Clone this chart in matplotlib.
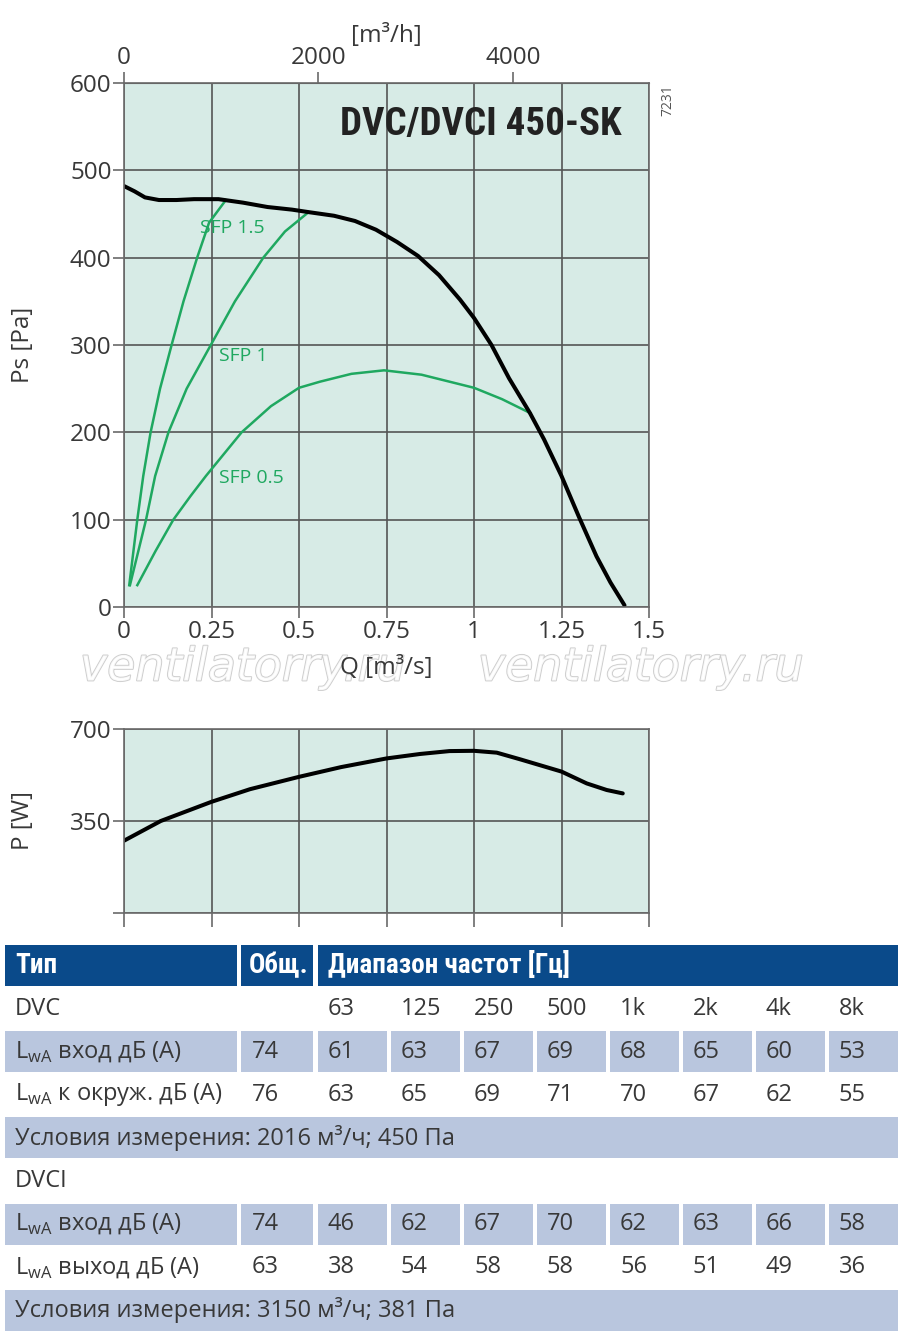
import matplotlib
matplotlib.use('Agg')
import matplotlib.pyplot as plt
from matplotlib import font_manager
from matplotlib.patches import Rectangle
import matplotlib.patheffects as pe

W, H = 900, 1333

# --- данные: характеристика вентилятора, Q [m3/s] / Ps [Pa]
fan_q = [0, 0.03, 0.06, 0.10, 0.15, 0.20, 0.27, 0.34, 0.41, 0.48, 0.53, 0.60, 0.66,
         0.72, 0.78, 0.84, 0.90, 0.96, 1.00, 1.05, 1.10, 1.16, 1.20, 1.25, 1.30,
         1.35, 1.39, 1.43]
fan_ps = [482, 476, 469, 466, 466, 467, 467, 463, 458, 455, 452, 448, 442,
          432, 418, 402, 380, 352, 331, 300, 262, 222, 192, 150, 103,
          58, 28, 2]

# линии SFP
sfp15_q = [0.015, 0.038, 0.055, 0.076, 0.103, 0.136, 0.17, 0.209, 0.243, 0.291]
sfp15_ps = [25, 100, 150, 200, 250, 300, 350, 400, 440, 466]
sfp1_q = [0.017, 0.063, 0.089, 0.127, 0.179, 0.248, 0.317, 0.398, 0.46, 0.527]
sfp1_ps = [25, 100, 150, 200, 250, 300, 350, 400, 430, 452]
sfp05_q = [0.038, 0.09, 0.141, 0.19, 0.234, 0.336, 0.42, 0.50, 0.56, 0.65, 0.743,
           0.85, 1.00, 1.08, 1.161]
sfp05_ps = [25, 64, 100, 127, 150, 200, 230, 251, 258, 267, 271,
            266, 251, 238, 222]

# мощность, P [W]
pow_q = [0, 0.105, 0.25, 0.36, 0.50, 0.62, 0.75, 0.846, 0.93, 1.00, 1.065, 1.131,
         1.25, 1.322, 1.379, 1.425]
pow_w = [275, 350, 423, 471, 518, 555, 588, 605, 616, 617, 610, 585,
         538, 493, 468, 455]

# таблица шума
header_labels = ['Тип', 'Общ.', 'Диапазон частот [Гц]']
bands = ['63', '125', '250', '500', '1k', '2k', '4k', '8k']
dvc_in_total, dvc_in = 74, [61, 63, 67, 69, 68, 65, 60, 53]
dvc_env_total, dvc_env = 76, [63, 65, 69, 71, 70, 67, 62, 55]
dvc_cond = 'Условия измерения: 2016 м³/ч; 450 Па'
dvci_in_total, dvci_in = 74, [46, 62, 67, 70, 62, 63, 66, 58]
dvci_out_total, dvci_out = 63, [38, 54, 58, 58, 56, 51, 49, 36]
dvci_cond = 'Условия измерения: 3150 м³/ч; 381 Па'

# шрифты: узкий жирный для заголовков, обычный для остального
names = {f.name for f in font_manager.fontManager.ttflist}
main = 'Open Sans' if 'Open Sans' in names else 'DejaVu Sans'
narrow, stretch = main, 'normal'
for f in font_manager.fontManager.ttflist:
    fn = f.fname.replace('-', '').replace('_', '')
    if ('Narrow' in fn or 'Condensed' in fn) and 'Extra' not in fn and 'Semi' not in fn \
            and f.style == 'normal' and f.weight in (400, 'normal', 'regular'):
        narrow, stretch = f.name, f.stretch
        if 'Liberation' in f.name or 'Roboto' in f.name:
            break
plt.rcParams['font.family'] = [main, 'DejaVu Sans']
plt.rcParams['mathtext.fontset'] = 'custom'
plt.rcParams['mathtext.rm'] = main
cond = dict(family=[narrow, 'DejaVu Sans'], stretch=stretch, fontweight='bold')

bg = '#d7ebe6'
gridc = '#555555'
spinec = '#6a6a6a'
green = '#1fa860'
txtc = '#383838'
blue = '#0a4a8a'
light = '#b9c6de'
fs = 17.5

fig = plt.figure(figsize=(W / 100, H / 100), dpi=100)


def fx(x):
    return x / W


def fy(y):
    return 1 - y / H


def style_axes(ax):
    ax.set_facecolor(bg)
    for s in ax.spines.values():
        s.set_color(spinec)
        s.set_linewidth(1.2)
    ax.tick_params(direction='out', length=8, width=1.2, color=spinec,
                   labelsize=fs, labelcolor=txtc, pad=1)
    ax.grid(True, color=gridc, linewidth=1.2)
    ax.set_axisbelow(True)


# ---- таблица и водяной знак (в пикселях, под графиками)
tab = fig.add_axes([0, 0, 1, 1], facecolor='none')
tab.set_zorder(-1)
tab.set_xlim(0, W)
tab.set_ylim(H, 0)
tab.axis('off')

for wx in (80, 478):
    tab.text(wx, 668, 'ventilatorry.ru', fontsize=33, style='italic', color='white',
             ha='left', va='center', family='DejaVu Sans', alpha=0.85,
             path_effects=[pe.withStroke(linewidth=1.3, foreground='#c4c4c4')])

# ---- верхний график
ax1 = fig.add_axes([fx(124), fy(607), 525 / W, 524 / H])
style_axes(ax1)
ax1.plot(sfp15_q, sfp15_ps, color=green, lw=1.8)
ax1.plot(sfp1_q, sfp1_ps, color=green, lw=1.8)
ax1.plot(sfp05_q, sfp05_ps, color=green, lw=1.8)
ax1.plot(fan_q, fan_ps, color='black', lw=2.9, solid_capstyle='round')
ax1.set_xlim(0, 1.5)
ax1.set_ylim(0, 600)
ax1.set_xticks([0, 0.25, 0.5, 0.75, 1, 1.25, 1.5])
ax1.set_xticklabels(['0', '0.25', '0.5', '0.75', '1', '1.25', '1.5'])
ax1.set_yticks([0, 100, 200, 300, 400, 500, 600])
ax1.set_ylabel('Ps [Pa]', fontsize=fs, color=txtc, labelpad=25)
ax1.set_xlabel('Q [m³/s]', fontsize=fs, color=txtc, labelpad=9)

ax1.text(0.217, 434, 'SFP 1.5', color=green, fontsize=14, va='center')
ax1.text(0.271, 287, 'SFP 1', color=green, fontsize=14, va='center')
ax1.text(0.271, 148, 'SFP 0.5', color=green, fontsize=14, va='center')
ax1.text(1.42, 553, 'DVC/DVCI 450-SK', fontsize=28, color='#222222',
         ha='right', va='center', **cond)

top = ax1.secondary_xaxis('top', functions=(lambda q: q * 3600, lambda h: h / 3600))
top.set_xticks([0, 2000, 4000])
top.tick_params(direction='out', length=8, width=1.2, color=spinec,
                labelsize=fs, labelcolor=txtc, pad=1)
top.spines['top'].set_color(spinec)
top.set_xlabel('[m³/h]', fontsize=fs, color=txtc, labelpad=3)

fig.text(fx(668), fy(100), '7231', rotation=90, fontsize=10, color='#555555',
         ha='center', va='center')

# ---- график мощности
ax2 = fig.add_axes([fx(124), fy(913), 525 / W, 184 / H])
style_axes(ax2)
ax2.plot(pow_q, pow_w, color='black', lw=2.9, solid_capstyle='round')
ax2.set_xlim(0, 1.5)
ax2.set_ylim(0, 700)
ax2.set_xticks([0, 0.25, 0.5, 0.75, 1, 1.25, 1.5])
ax2.set_xticklabels([])
ax2.set_yticks([0, 350, 700])
ax2.set_yticklabels(['', '350', '700'])
ax2.tick_params(axis='x', length=10)
ax2.set_ylabel('P [W]', fontsize=fs, color=txtc, labelpad=25)

# ---- таблица шума
row_top0 = 945
row_pitch = 43.1
row_h = 41
lab_cell = (5, 237)
tot_cell = (241, 313)
freq_x0, freq_x1, gap = 318, 898, 4
fw = (freq_x1 - freq_x0 - 7 * gap) / 8
freq_cells = [(freq_x0 + i * (fw + gap), freq_x0 + i * (fw + gap) + fw) for i in range(8)]


def cell(x0, x1, r, color):
    y0 = row_top0 + r * row_pitch
    tab.add_patch(Rectangle((x0, y0), x1 - x0, row_h, facecolor=color, edgecolor='none'))


def ctext(x, r, s, **kw):
    y = row_top0 + r * row_pitch + row_h / 2
    opts = dict(fontsize=17, color=txtc, ha='left', va='center')
    opts.update(kw)
    tab.text(x, y, s, **opts)


# заголовок
cell(*lab_cell, 0, blue)
cell(*tot_cell, 0, blue)
cell(freq_x0, freq_x1, 0, blue)
ctext(lab_cell[0] + 10, 0, header_labels[0], color='white', fontsize=19.5, **cond)
ctext(tot_cell[0] + 8, 0, header_labels[1], color='white', fontsize=19.5, **cond)
ctext(freq_x0 + 10, 0, header_labels[2], color='white', fontsize=19.5, **cond)

LWA = r'L$_{\mathregular{wA}}$'


def data_row(r, label, total, vals, shaded):
    if shaded:
        cell(*lab_cell, r, light)
        cell(*tot_cell, r, light)
        for c in freq_cells:
            cell(*c, r, light)
    ctext(lab_cell[0] + 10, r, label)
    ctext(tot_cell[0] + 11, r, str(total))
    for c, v in zip(freq_cells, vals):
        ctext(c[0] + 10, r, str(v))


def cond_row(r, s):
    cell(lab_cell[0], freq_x1, r, light)
    ctext(lab_cell[0] + 10, r, s)


# DVC
ctext(lab_cell[0] + 10, 1, 'DVC')
for c, b in zip(freq_cells, bands):
    ctext(c[0] + 10, 1, b)
data_row(2, LWA + ' вход дБ (A)', dvc_in_total, dvc_in, True)
data_row(3, LWA + ' к окруж. дБ (A)', dvc_env_total, dvc_env, False)
cond_row(4, dvc_cond)
# DVCI
ctext(lab_cell[0] + 10, 5, 'DVCI')
data_row(6, LWA + ' вход дБ (A)', dvci_in_total, dvci_in, True)
data_row(7, LWA + ' выход дБ (A)', dvci_out_total, dvci_out, False)
cond_row(8, dvci_cond)

fig.savefig('out.png', dpi=100)
